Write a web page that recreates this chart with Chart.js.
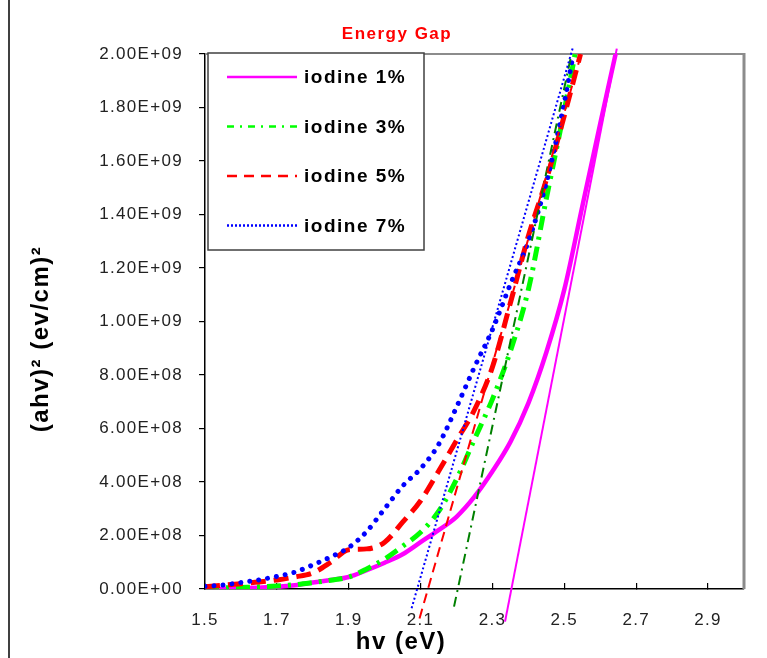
<!DOCTYPE html>
<html>
<head>
<meta charset="utf-8">
<script src="https://cdn.jsdelivr.net/npm/chart.js@4.4.0/dist/chart.umd.min.js"></script>
<style>
  html, body { margin: 0; padding: 0; background: #fff; }
  #wrap { position: relative; width: 767px; height: 658px; }
</style>
</head>
<body>
<div id="wrap"><canvas id="myChart"></canvas></div>
<script>
const seriesNames = ["iodine 1%", "iodine 3%", "iodine 5%", "iodine 7%"];

// measured curves, hv (eV) against (ahv)^2
const hv1 = [1.50, 1.55, 1.60, 1.65, 1.70, 1.75, 1.80, 1.85, 1.90, 1.95, 2.00, 2.05, 2.10, 2.15, 2.20, 2.25, 2.30, 2.35, 2.40, 2.45, 2.50, 2.55, 2.60, 2.646];
const ahv1 = [0, 1e6, 3e6, 5e6, 8e6, 1.4e7, 2.4e7, 3.4e7, 4.5e7, 7.0e7, 9.8e7, 1.3e8, 1.75e8, 2.2e8, 2.7e8, 3.45e8, 4.4e8, 5.5e8, 6.95e8, 8.85e8, 1.12e9, 1.43e9, 1.74e9, 2.02e9];

const hv3 = [1.50, 1.55, 1.60, 1.65, 1.70, 1.75, 1.80, 1.85, 1.90, 1.95, 2.00, 2.05, 2.10, 2.15, 2.20, 2.25, 2.30, 2.35, 2.40, 2.45, 2.50, 2.53];
const ahv3 = [2e6, 4e6, 6e6, 8e6, 1.1e7, 1.6e7, 2.4e7, 3.3e7, 4.5e7, 7.5e7, 1.12e8, 1.6e8, 2.12e8, 2.9e8, 4.1e8, 5.6e8, 7.1e8, 8.9e8, 1.12e9, 1.46e9, 1.79e9, 2.0e9];

const hv5 = [1.50, 1.55, 1.60, 1.65, 1.70, 1.75, 1.80, 1.85, 1.90, 1.95, 2.00, 2.05, 2.10, 2.15, 2.20, 2.25, 2.30, 2.35, 2.40, 2.45, 2.50, 2.545];
const ahv5 = [8e6, 1.4e7, 2.0e7, 2.6e7, 3.4e7, 4.5e7, 6.0e7, 1.0e8, 1.47e8, 1.5e8, 1.75e8, 2.5e8, 3.3e8, 4.4e8, 5.55e8, 6.7e8, 8.3e8, 1.07e9, 1.32e9, 1.53e9, 1.77e9, 2.0e9];

const hv7 = [1.50, 1.55, 1.60, 1.65, 1.70, 1.75, 1.80, 1.85, 1.90, 1.95, 2.00, 2.05, 2.10, 2.15, 2.20, 2.25, 2.30, 2.35, 2.40, 2.45, 2.50, 2.525];
const ahv7 = [1.0e7, 1.5e7, 2.4e7, 3.4e7, 4.7e7, 6.3e7, 9.0e7, 1.2e8, 1.55e8, 2.15e8, 3.0e8, 3.85e8, 4.5e8, 5.4e8, 6.8e8, 8.3e8, 9.7e8, 1.14e9, 1.30e9, 1.52e9, 1.82e9, 2.0e9];

// straight extrapolation lines (end points)
const fitHv1 = [2.335, 2.646];
const fitAhv1 = [-1.22e8, 2.02e9];
const fitHv3 = [2.193, 2.52];
const fitAhv3 = [-6.6e7, 2.0e9];
const fitHv5 = [2.097, 2.548];
const fitAhv5 = [-1.1e8, 2.005e9];
const fitHv7 = [2.075, 2.525];
const fitAhv7 = [-7.2e7, 2.03e9];

const xTickLabels = ["1.5", "1.7", "1.9", "2.1", "2.3", "2.5", "2.7", "2.9"];
const yTickLabels = ["0.00E+00", "2.00E+08", "4.00E+08", "6.00E+08", "8.00E+08", "1.00E+09",
  "1.20E+09", "1.40E+09", "1.60E+09", "1.80E+09", "2.00E+09"];

const colors = ["#FF00FF", "#00FF00", "#FF0000", "#0000FF"];
const fitColors = ["#FF00FF", "#008000", "#FF0000", "#0000FF"];
const curveDash = [[], [14, 7, 3, 7], [15, 8], [0.01, 9]];
const fitDash = [[], [10, 5, 2, 5], [10, 6], [2, 2.5]];
const legendDash = [[], [7, 6, 2, 6], [10, 7], [2, 2]];

function pts(xs, ys) {
  return xs.map(function (x, i) { return { x: x, y: ys[i] }; });
}

const curves = [pts(hv1, ahv1), pts(hv3, ahv3), pts(hv5, ahv5), pts(hv7, ahv7)];
const fits = [pts(fitHv1, fitAhv1), pts(fitHv3, fitAhv3), pts(fitHv5, fitAhv5), pts(fitHv7, fitAhv7)];

const datasets = [];
for (let i = 0; i < 4; i++) {
  datasets.push({
    label: seriesNames[i],
    data: curves[i],
    borderColor: colors[i],
    borderWidth: i === 0 ? 4.5 : 5,
    borderDash: curveDash[i],
    borderCapStyle: i === 3 ? "round" : "butt",
    cubicInterpolationMode: "monotone",
    pointRadius: 0,
    order: 8 - i,
  });
}
for (let i = 0; i < 4; i++) {
  datasets.push({
    label: seriesNames[i] + " fit",
    data: fits[i],
    borderColor: fitColors[i],
    borderWidth: 2,
    borderDash: fitDash[i],
    pointRadius: 0,
    clip: false,
    order: 4 - i,
  });
}

const spacing = function (chart) {
  chart.ctx.letterSpacing = "1.3px";
};

// titles, gray frame and legend box like the Excel original
const decor = {
  id: "decor",
  beforeUpdate: spacing,
  beforeLayout: spacing,
  beforeDraw: function (chart) {
    spacing(chart);
    const c = chart.ctx;
    c.save();
    c.fillStyle = "#fff";
    c.fillRect(0, 0, chart.width, chart.height);
    c.strokeStyle = "#404040";
    c.lineWidth = 2;
    c.beginPath();
    c.moveTo(9, 0);
    c.lineTo(9, chart.height);
    c.stroke();
    c.restore();
  },
  beforeDatasetsDraw: function (chart) {
    const a = chart.chartArea;
    const c = chart.ctx;
    c.save();
    c.strokeStyle = "#8c8c8c";
    c.lineWidth = 2;
    c.beginPath();
    c.moveTo(a.left, a.top);
    c.lineTo(a.right, a.top);
    c.stroke();
    c.lineWidth = 3;
    c.beginPath();
    c.moveTo(a.right, a.top - 1);
    c.lineTo(a.right, a.bottom);
    c.stroke();
    c.restore();
  },
  afterDatasetsDraw: function (chart) {
    const a = chart.chartArea;
    const c = chart.ctx;
    c.save();
    const bx = a.left + 3, by = a.top - 1, bw = 216, bh = 197;
    c.fillStyle = "#fff";
    c.fillRect(bx, by, bw, bh);
    c.strokeStyle = "#404040";
    c.lineWidth = 1.5;
    c.strokeRect(bx, by, bw, bh);
    c.font = "bold 19px 'Liberation Sans', Arial, sans-serif";
    c.textBaseline = "middle";
    c.textAlign = "left";
    c.letterSpacing = "1.5px";
    for (let i = 0; i < 4; i++) {
      const y = by + 24 + i * 49.5;
      c.strokeStyle = colors[i];
      c.lineWidth = 2.5;
      c.setLineDash(legendDash[i]);
      c.beginPath();
      c.moveTo(bx + 19, y);
      c.lineTo(bx + 89, y);
      c.stroke();
      c.setLineDash([]);
      c.fillStyle = "#000";
      c.fillText(seriesNames[i], bx + 96, y + 1);
    }
    c.restore();
  },
  afterDraw: function (chart) {
    const a = chart.chartArea;
    const c = chart.ctx;
    c.save();
    c.textAlign = "center";
    c.textBaseline = "middle";
    c.letterSpacing = "1.5px";
    c.fillStyle = "#FF0000";
    c.font = "bold 17px 'Liberation Sans', Arial, sans-serif";
    c.fillText("Energy Gap", 397, a.top - 20);
    c.fillStyle = "#000";
    c.letterSpacing = "1.5px";
    c.font = "bold 24px 'Liberation Sans', Arial, sans-serif";
    c.fillText("hv (eV)", 401, a.bottom + 53);
    c.translate(41, 339);
    c.rotate(-Math.PI / 2);
    c.fillText("(ahv)\u00b2 (ev/cm)\u00b2", 0, 0);
    c.restore();
  },
};

const ctx = document.getElementById("myChart").getContext("2d");
const myChart = new Chart(ctx, {
  type: "line",
  data: { datasets: datasets },
  plugins: [decor],
  options: {
    responsive: true,
    maintainAspectRatio: false,
    animation: false,
    layout: { padding: { left: 0, top: 54, right: 23, bottom: 0 } },
    plugins: {
      legend: { display: false },
      title: { display: false },
      tooltip: { enabled: false },
    },
    scales: {
      x: {
        type: "linear",
        min: 1.5,
        max: 3.0,
        afterBuildTicks: function (scale) {
          scale.ticks = xTickLabels.map(function (t) { return { value: Number(t) }; });
        },
        afterFit: function (scale) { scale.height = 69; },
        grid: { drawOnChartArea: false, color: "#000", tickLength: -6, lineWidth: 1.2 },
        border: { color: "#000", width: 1.5 },
        ticks: {
          padding: 27,
          autoSkip: false,
          maxRotation: 0,
          color: "#222",
          font: { family: "'Liberation Sans', Arial, sans-serif", size: 17 },
          callback: function (v, i) { return xTickLabels[i]; },
        },
      },
      y: {
        min: 0,
        max: 2e9,
        afterBuildTicks: function (scale) {
          scale.ticks = yTickLabels.map(function (t) { return { value: Number(t) }; });
        },
        afterFit: function (scale) { scale.width = 205; },
        grid: { drawOnChartArea: false, color: "#000", tickLength: 6, lineWidth: 1.2 },
        border: { color: "#000", width: 1.5 },
        ticks: {
          padding: 16,
          autoSkip: false,
          color: "#222",
          font: { family: "'Liberation Sans', Arial, sans-serif", size: 17 },
          callback: function (v, i) { return yTickLabels[i]; },
        },
      },
    },
  },
});
</script>
</body>
</html>
